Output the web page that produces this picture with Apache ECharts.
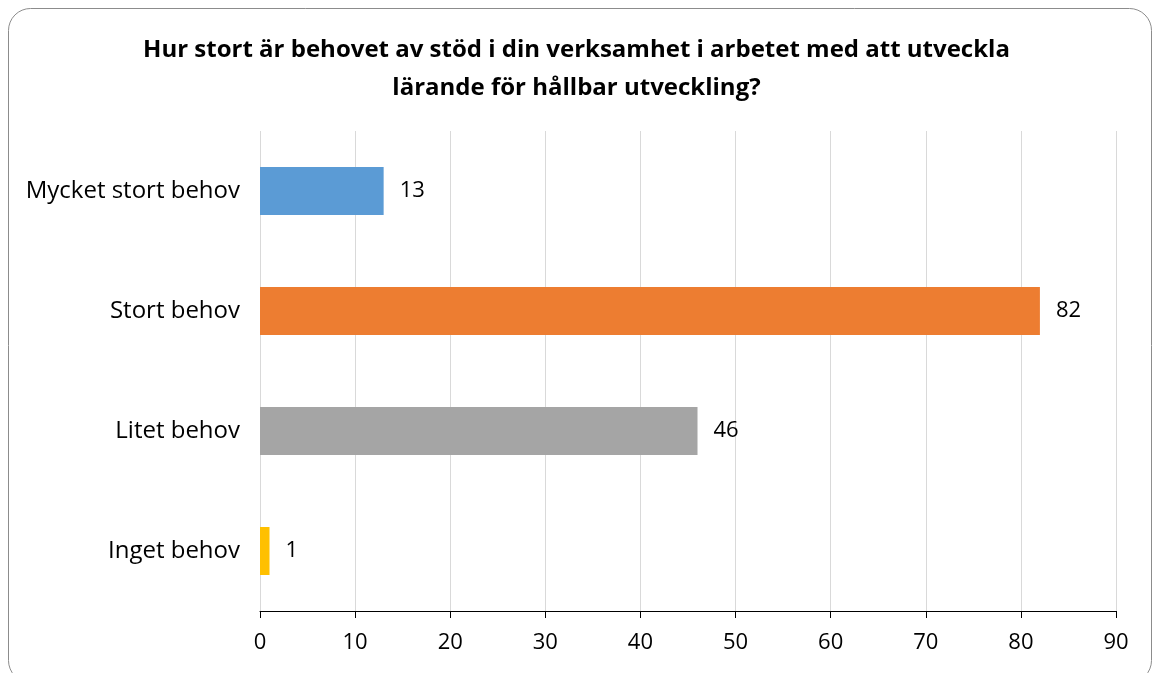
<!DOCTYPE html>
<html lang="sv">
<head>
  <meta charset="UTF-8" />
  <script src="https://cdn.jsdelivr.net/npm/echarts@6/dist/echarts.min.js"></script>
  <style>
    body{margin:0;padding:0;background:#fff;}
    #chart{width:1153px;height:673px;}
  </style>
</head>
<body>
  <div id="chart"></div>
  <script>
    // data
    var categories = ['Mycket stort behov', 'Stort behov', 'Litet behov', 'Inget behov'];
    var values = [13, 82, 46, 1];
    var colors = ['#5B9BD5', '#ED7D31', '#A5A5A5', '#FFC000'];
    var titleText = 'Hur stort är behovet av stöd i din verksamhet i arbetet med att utveckla\nlärande för hållbar utveckling?';

    var font = 'Open Sans';
    var chart = echarts.init(document.getElementById('chart'));

    var option = {
      animation: false,
      graphic: [{
        type: 'rect',
        left: 6, top: 6,
        shape: { width: 1143, height: 674, r: 22 },
        style: { fill: 'none', stroke: '#8c8c8c', lineWidth: 1 },
        silent: true
      }],
      title: {
        text: titleText,
        left: 'center',
        top: 26,
        textStyle: { fontFamily: font, fontSize: 24, fontWeight: 'bold', color: '#000', lineHeight: 38 }
      },
      grid: { left: 260, right: 37, top: 131, bottom: 62, containLabel: false },
      xAxis: {
        type: 'value',
        min: 0, max: 90, interval: 10,
        axisLine: { show: true, lineStyle: { color: '#000', width: 1 } },
        axisTick: { show: true, length: 7, lineStyle: { color: '#000' } },
        axisLabel: { color: '#000', fontFamily: font, fontSize: 22, margin: 21 },
        splitLine: { show: true, lineStyle: { color: '#d9d9d9', width: 1 } }
      },
      yAxis: {
        type: 'category',
        data: categories,
        inverse: true,
        axisLine: { show: false },
        axisTick: { show: false },
        axisLabel: { color: '#000', fontFamily: font, fontSize: 24, margin: 20 }
      },
      series: [{
        type: 'bar',
        data: values.map(function (v, i) {
          return { value: v, itemStyle: { color: colors[i] } };
        }),
        barWidth: 48,
        label: {
          show: true,
          position: 'right',
          distance: 16,
          color: '#000',
          fontFamily: font,
          fontSize: 22
        }
      }]
    };
    chart.setOption(option);
  </script>
</body>
</html>
